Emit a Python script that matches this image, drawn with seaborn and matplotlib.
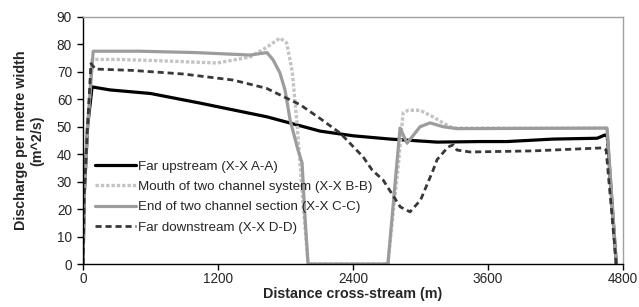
import numpy as np
import pandas as pd
import seaborn as sns
import matplotlib.pyplot as plt

sns.set_style("white")
plt.rcParams['font.family'] = ['Liberation Sans', 'DejaVu Sans']

# values (distance in m, discharge in m^2/s)
dist_aa = [0, 10, 40, 80, 240, 600, 1040, 1635, 2107, 2400, 2730, 2845, 3147, 3530, 3770, 4180, 4570, 4640, 4660, 4740]
q_aa = [0, 25, 50, 64.5, 63.4, 62.1, 58.6, 53.6, 48.4, 46.7, 45.5, 45.2, 44.4, 44.6, 44.6, 45.5, 45.8, 47, 46.5, 0]

dist_bb = [0, 10, 40, 80, 300, 700, 1190, 1485, 1635, 1751, 1810, 1860, 1900, 1950, 2000, 2710, 2760, 2800,
           2845, 2890, 2996, 3110, 3200, 3290, 3600, 4658, 4740]
q_bb = [0, 25, 50, 74.5, 74.5, 74, 73.2, 75.4, 79, 82.3, 80.5, 70, 52, 25, 0, 0, 20, 35,
        55, 56, 56, 53.6, 51.4, 49.5, 49.5, 49.5, 0]

dist_cc = [0, 10, 40, 90, 500, 1000, 1485, 1635, 1690, 1750, 1795, 1822, 1840, 1911, 1947, 1973, 2000, 2710,
           2775, 2818, 2880, 2996, 3085, 3200, 3324, 4658, 4740]
q_cc = [0, 25, 50, 77.5, 77.5, 77, 76.1, 77, 74.3, 69.6, 63.4, 57, 52.5, 41.5, 36.8, 17, 0, 0,
        30, 49.5, 44, 50, 51.4, 50, 49.3, 49.5, 0]

dist_dd = [0, 10, 40, 70, 110, 444, 890, 1333, 1630, 1930, 2107, 2285, 2490, 2570, 2667, 2820, 2907, 3000,
           3110, 3147, 3244, 3290, 3324, 3440, 4000, 4622, 4650, 4740]
q_dd = [0, 25, 50, 73, 71, 70.5, 69.2, 67, 64, 58, 53, 47.7, 39, 34.2, 30.6, 20.8, 19, 23.3,
        34, 38, 42.6, 43.4, 41.5, 40.8, 41.2, 42.3, 41.5, 0]

labels = ['Far upstream (X-X A-A)', 'Mouth of two channel system (X-X B-B)',
          'End of two channel section (X-X C-C)', 'Far downstream (X-X D-D)']

fig = plt.figure(figsize=(6.39, 3.07), dpi=100)
ax = fig.add_axes([0.130, 0.140, 0.845, 0.805])

sns.lineplot(x=dist_aa, y=q_aa, sort=False, estimator=None, ax=ax, color='black', lw=2.3, label=labels[0])
sns.lineplot(x=dist_bb, y=q_bb, sort=False, estimator=None, ax=ax, color='#c4c4c4', lw=2.4,
             linestyle=(0, (1, 0.6)), label=labels[1])
sns.lineplot(x=dist_cc, y=q_cc, sort=False, estimator=None, ax=ax, color='#9c9c9c', lw=2.3, label=labels[2])
sns.lineplot(x=dist_dd, y=q_dd, sort=False, estimator=None, ax=ax, color='#383838', lw=2.0,
             linestyle=(0, (2.2, 1.4)), label=labels[3])

ax.set_xlim(0, 4800)
ax.set_ylim(0, 90)
ax.set_xticks([0, 1200, 2400, 3600, 4800])
ax.set_yticks(range(0, 91, 10))
ax.tick_params(axis='both', direction='out', length=4, width=1, color='black', labelsize=9.8)
ax.tick_params(axis='x', pad=1.5)
ax.tick_params(axis='y', pad=4)
ax.tick_params(left=True, bottom=True)

for s in ['left', 'bottom']:
    ax.spines[s].set_color('black')
    ax.spines[s].set_linewidth(1)
for s in ['top', 'right']:
    ax.spines[s].set_color('#a0a0a0')
    ax.spines[s].set_linewidth(1)

ax.set_xlabel('Distance cross-stream (m)', fontsize=10.3, fontweight='bold', labelpad=1)
ax.set_ylabel('Discharge per metre width\n(m^2/s)', fontsize=10.3, fontweight='bold', labelpad=9)

ax.legend(loc='upper left', bbox_to_anchor=(0.022, 0.42), frameon=False, fontsize=9.6,
          handlelength=3.1, handletextpad=0.15, labelspacing=0.6, borderpad=0, borderaxespad=0)

fig.savefig('out.png', dpi=100)
